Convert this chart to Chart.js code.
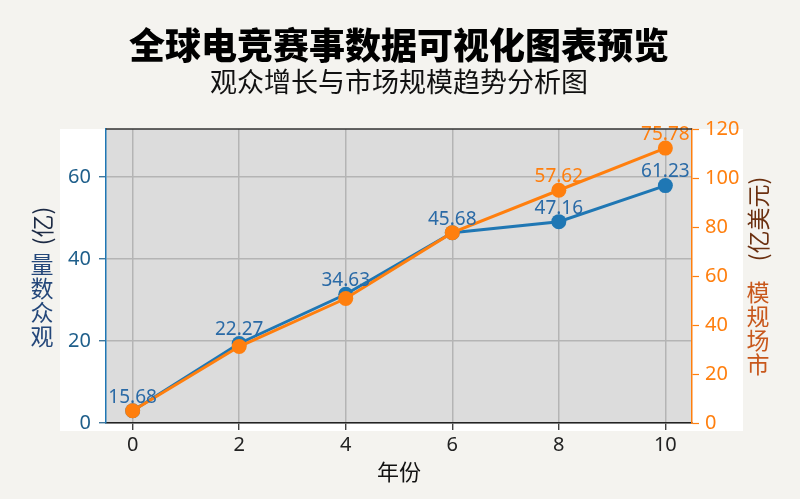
<!DOCTYPE html>
<html>
<head>
<meta charset="utf-8">
<script src="https://cdn.jsdelivr.net/npm/chart.js@4/dist/chart.umd.min.js"></script>
<style>
  html, body { margin: 0; padding: 0; background: #f4f3ef; }
  #wrap { width: 800px; height: 499px; }
</style>
</head>
<body>
<div id="wrap"><canvas id="grafico" width="800" height="499"></canvas></div>
<script>
// dados
const ANOS = [0, 2, 4, 6, 8, 10];
const AUDIENCIA = [3.0, 19.4, 31.4, 46.4, 49.1, 57.9];       // eixo esquerdo (亿)
const MERCADO = [5.0, 31.2, 50.8, 77.7, 95.0, 112.2];        // eixo direito (亿美元)
const ROTULOS_AUDIENCIA = ['15.68', '22.27', '34.63', '45.68', '47.16', '61.23'];
const ROTULOS_MERCADO = [null, null, null, null, '57.62', '75.78'];
const TICKS_X = [0, 2, 4, 6, 8, 10];
const TICKS_ESQ = [0, 20, 40, 60];
const TICKS_DIR = [0, 20, 40, 60, 80, 100, 120];

const AZUL = '#1f77b4';
const LARANJA = '#ff7f0e';
const FONTE = "'Noto Sans', 'Noto Sans CJK SC', sans-serif";

function pontos(valores) {
  return ANOS.map((x, i) => ({ x, y: valores[i] }));
}

function manterTicks(lista) {
  return scale => { scale.ticks = lista.map(v => ({ value: v })); };
}

const fundoPlugin = {
  id: 'fundo',
  beforeDraw(chart) {
    const { ctx, chartArea: a } = chart;
    ctx.save();
    ctx.fillStyle = '#f4f3ef';
    ctx.fillRect(0, 0, chart.width, chart.height);
    ctx.fillStyle = '#ffffff';
    ctx.fillRect(60, a.top, 743 - 60, a.bottom - a.top + 8);
    ctx.fillStyle = '#dcdcdc';
    ctx.fillRect(a.left, a.top, a.right - a.left, a.bottom - a.top);
    ctx.restore();
  },
  afterDraw(chart) {
    const { ctx, chartArea: a } = chart;
    ctx.save();
    // borda superior
    ctx.strokeStyle = '#333333';
    ctx.lineWidth = 1.5;
    ctx.beginPath();
    ctx.moveTo(a.left, a.top);
    ctx.lineTo(a.right, a.top);
    ctx.stroke();

    ctx.textAlign = 'center';
    ctx.textBaseline = 'middle';
    ctx.fillStyle = '#000000';
    ctx.font = "900 36px 'Noto Sans CJK SC', sans-serif";
    ctx.fillText('全球电竞赛事数据可视化图表预览', 399, 45);
    ctx.fillStyle = '#111111';
    ctx.font = "27px 'Noto Sans CJK SC', sans-serif";
    ctx.fillText('观众增长与市场规模趋势分析图', 399, 82);
    ctx.font = "22px 'Noto Sans CJK SC', sans-serif";
    ctx.fillText('年份', 399, 472);

    // rótulo vertical esquerdo
    ctx.font = "23px 'Noto Sans CJK SC', sans-serif";
    ctx.fillStyle = '#24477a';
    ['观', '众', '数', '量'].forEach((c, i) => ctx.fillText(c, 42, 336 - i * 24));
    ctx.save();
    ctx.translate(42, 226);
    ctx.rotate(-Math.PI / 2);
    ctx.fillStyle = '#1c2a44';
    ctx.fillText('(亿)', 0, 0);
    ctx.restore();

    // rótulo vertical direito
    ctx.font = "23px 'Noto Sans CJK SC', sans-serif";
    ctx.fillStyle = '#c8581c';
    ['市', '场', '规', '模'].forEach((c, i) => ctx.fillText(c, 758, 364 - i * 24));
    ctx.save();
    ctx.translate(758, 219);
    ctx.rotate(-Math.PI / 2);
    ctx.fillStyle = '#6b3010';
    ctx.fillText('(亿美元)', 0, 0);
    ctx.restore();

    ctx.restore();
  },
  afterDatasetsDraw(chart) {
    const { ctx } = chart;
    ctx.save();
    ctx.font = '19px ' + FONTE;
    ctx.textAlign = 'center';
    ctx.textBaseline = 'bottom';
    const desenhar = (idx, rotulos, cor) => {
      const meta = chart.getDatasetMeta(idx);
      ctx.fillStyle = cor;
      meta.data.forEach((p, i) => {
        if (rotulos[i]) ctx.fillText(rotulos[i], p.x, p.y - 4);
      });
    };
    desenhar(0, ROTULOS_MERCADO, LARANJA);
    desenhar(1, ROTULOS_AUDIENCIA, '#2a6aa6');
    ctx.restore();
  }
};

new Chart(document.getElementById('grafico'), {
  type: 'line',
  data: {
    datasets: [
      {
        label: '市场规模',
        data: pontos(MERCADO),
        yAxisID: 'y1',
        borderColor: LARANJA,
        backgroundColor: LARANJA,
        borderWidth: 3,
        pointRadius: 7.5,
        pointBorderWidth: 0,
        tension: 0,
        clip: false
      },
      {
        label: '观众数量',
        data: pontos(AUDIENCIA),
        yAxisID: 'y',
        borderColor: AZUL,
        backgroundColor: AZUL,
        borderWidth: 3,
        pointRadius: 7.5,
        pointBorderWidth: 0,
        tension: 0,
        clip: false
      }
    ]
  },
  options: {
    responsive: false,
    animation: false,
    devicePixelRatio: 1,
    layout: { padding: { top: 129, left: 0, right: 0, bottom: 0 } },
    plugins: { legend: { display: false }, tooltip: { enabled: false } },
    scales: {
      x: {
        type: 'linear',
        min: -0.5,
        max: 10.5,
        afterBuildTicks: manterTicks(TICKS_X),
        afterFit: s => { s.height = 76; },
        ticks: { color: '#222222', font: { size: 20, family: FONTE }, padding: 3 },
        grid: { color: '#b4b4b4', lineWidth: 1.5, tickLength: 7, tickColor: '#222222', tickWidth: 1.2 },
        border: { color: '#222222', width: 1.5 }
      },
      y: {
        position: 'left',
        min: 0,
        max: 71.7,
        afterBuildTicks: manterTicks(TICKS_ESQ),
        afterFit: s => { s.width = 106; },
        ticks: { color: '#1f5f8b', font: { size: 20, family: FONTE }, padding: 8 },
        grid: { color: '#b4b4b4', lineWidth: 1.5, tickLength: 7, tickColor: '#1f5f8b', tickWidth: 1.2 },
        border: { color: AZUL, width: 1.5 }
      },
      y1: {
        position: 'right',
        min: 0,
        max: 120,
        afterBuildTicks: manterTicks(TICKS_DIR),
        afterFit: s => { s.width = 108; },
        ticks: { color: LARANJA, font: { size: 20, family: FONTE }, padding: 6 },
        grid: { drawOnChartArea: false, tickLength: 7, tickColor: LARANJA, tickWidth: 1.2 },
        border: { color: LARANJA, width: 1.5 }
      }
    }
  },
  plugins: [fundoPlugin]
});
</script>
</body>
</html>
